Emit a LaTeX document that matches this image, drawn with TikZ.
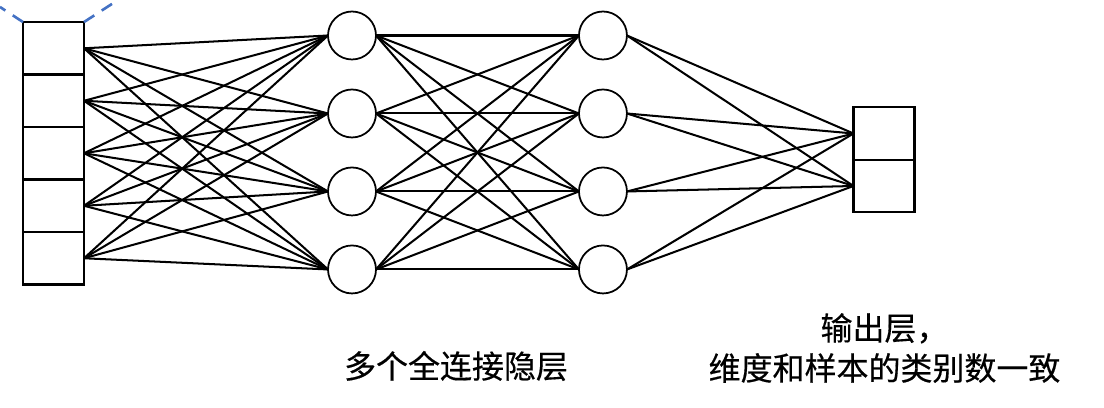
\documentclass[tikz,border=0pt]{standalone}
\usepackage{fontspec}
\newfontfamily\cjk[FakeBold=0.4]{Noto Sans CJK SC}
\usepackage{tikz}
\usetikzlibrary{positioning}
\definecolor{dashblue}{HTML}{4472C4}

\begin{document}
\begin{tikzpicture}[
				x=0.02cm, y=-0.02cm,
				cell/.style={rectangle, draw=black, line width=1.4pt, minimum width=1.22cm, minimum height=1.05cm, inner sep=0pt, outer sep=0pt},
				neuron/.style={circle, draw=black, line width=1pt, minimum size=0.96cm, inner sep=0pt, outer sep=0pt},
				link/.style={line width=1.15pt},
				guide/.style={dashblue, line width=1.5pt, dash pattern=on 7pt off 5pt},
				caption/.style={font=\cjk\fontsize{18.2}{22.8}\selectfont, align=center, inner sep=0pt}
				]
				\useasboundingbox (0,0) rectangle (1104,408);
				
				% Nodes
				\node (in1) [cell] at (53.5,48.3) {};
				\node (in2) [cell, below=0pt of in1] {};
				\node (in3) [cell, below=0pt of in2] {};
				\node (in4) [cell, below=0pt of in3] {};
				\node (in5) [cell, below=0pt of in4] {};
				
				\node (h1) [neuron] at (352,35.5) {};
				\node (h2) [neuron, below=0.6cm of h1] {};
				\node (h3) [neuron, below=0.6cm of h2] {};
				\node (h4) [neuron, below=0.6cm of h3] {};
				
				\node (g1) [neuron, right=4.06cm of h1] {};
				\node (g2) [neuron, right=4.06cm of h2] {};
				\node (g3) [neuron, right=4.06cm of h3] {};
				\node (g4) [neuron, right=4.06cm of h4] {};
				
				\node (out1) [cell] at (884,133.5) {};
				\node (out2) [cell, below=0pt of out1] {};
				
				% Connections
				\foreach \i in {1,...,5}
					\foreach \j in {1,...,4}
						\draw [link] (in\i.east) -- (h\j.west);
				\foreach \i in {1,...,4}
					\foreach \j in {1,...,4}
						\draw [link] (h\i.east) -- (g\j.west);
				\foreach \i in {1,...,4}
					\foreach \j in {1,2}
						\draw [link] (g\i.east) -- (out\j.west);
				
				% Cut-off dashed edges
				\coordinate (cutL) at (0,7);
				\coordinate (cutR) at (118,0);
				\draw [guide] (in1.north west) -- (cutL);
				\draw [guide] (in1.north east) -- (cutR);
				
				% Labels
				\node (hidtext) [caption] at (456,366) {多个全连接隐层};
				\node (outtext) [caption] at (884.5,348) {输出层，\\维度和样本的类别数一致};
			\end{tikzpicture}
\end{document}
